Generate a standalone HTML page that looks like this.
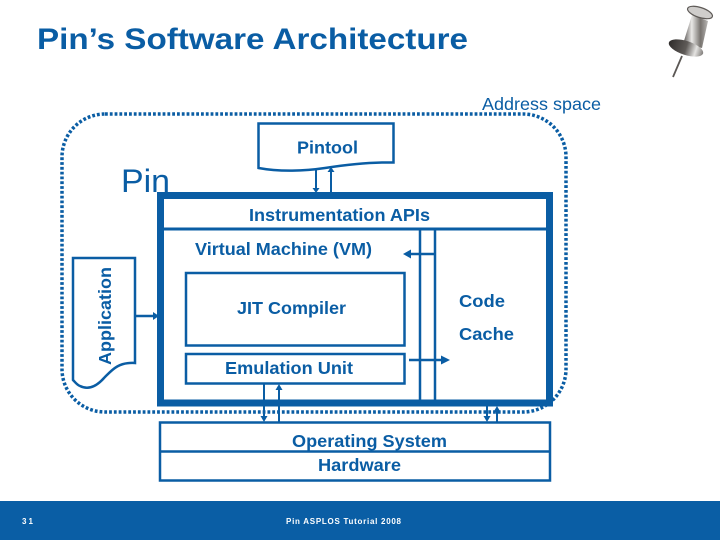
<!DOCTYPE html>
<html>
<head>
<meta charset="utf-8">
<style>
html,body{margin:0;padding:0;background:#fff;width:720px;height:540px;overflow:hidden}
svg{display:block}
text{font-family:"Liberation Sans",sans-serif;fill:#0a5da4}
.b{font-weight:bold;font-size:17.500px}
.r{font-size:17.500px}
</style>
</head>
<body>
<svg width="720" height="540" viewBox="0 0 720 540" xmlns="http://www.w3.org/2000/svg">
<defs>
<linearGradient id="m" x1="0" y1="0" x2="1" y2="0">
<stop offset="0" stop-color="#55514f"/><stop offset=".35" stop-color="#e9e8e6"/><stop offset=".7" stop-color="#77736f"/><stop offset="1" stop-color="#b9b7b5"/>
</linearGradient>
<linearGradient id="d" x1="0" y1="0" x2="1" y2="0">
<stop offset="0" stop-color="#2f2c2b"/><stop offset=".5" stop-color="#5f5b58"/><stop offset=".78" stop-color="#e4e3e1"/><stop offset="1" stop-color="#7f7c79"/>
</linearGradient>
</defs>

<text x="37" y="49" font-size="30" font-weight="bold" textLength="431" lengthAdjust="spacingAndGlyphs">Pin’s Software Architecture</text>

<!-- push pin -->
<g>
<line x1="682" y1="56" x2="673" y2="77" stroke="#5b5754" stroke-width="1.800"/>
<path d="M692 15 L708 21 L702 48 L683 44 Z" fill="url(#m)"/>
<ellipse cx="700" cy="12.500" rx="13" ry="5" transform="rotate(18 700 12.500)" fill="#cfcdcb" stroke="#5f5b58" stroke-width="1.200"/>
<ellipse cx="686" cy="48" rx="18" ry="7" transform="rotate(18 686 48)" fill="url(#d)"/>
</g>

<!-- address space -->
<rect x="62" y="114" width="504" height="298" rx="43" ry="43" fill="none" stroke="#0a5da4" stroke-width="3.500" stroke-dasharray="2.800 2"/>
<text class="r" x="482" y="110" textLength="119" lengthAdjust="spacingAndGlyphs">Address space</text>

<text x="121" y="192" font-size="32" textLength="49" lengthAdjust="spacingAndGlyphs">Pin</text>

<!-- Pintool -->
<path d="M258.500 123.500 H393.500 V162.500 C370 162 345 165 325 168 C305 171 280 172 258.500 168 Z" fill="#fff" stroke="#0a5da4" stroke-width="2.500"/>
<text class="b" x="297" y="153.500" textLength="61" lengthAdjust="spacingAndGlyphs">Pintool</text>
<g stroke="#0a5da4" stroke-width="2" fill="#0a5da4">
<line x1="316" y1="170" x2="316" y2="188"/>
<polygon points="312.500,188 319.500,188 316,193" stroke="none"/>
<line x1="331" y1="172" x2="331" y2="192"/>
<polygon points="327.500,172 334.500,172 331,167" stroke="none"/>
</g>

<!-- Application -->
<path d="M73 258 H135 V363 C118 362 112 370 104 378 C96 387 88 390 80 386 C77 385 75 382 73 380 Z" fill="#fff" stroke="#0a5da4" stroke-width="2.500"/>
<text class="b" transform="translate(111 365) rotate(-90)" textLength="98" lengthAdjust="spacingAndGlyphs">Application</text>
<line x1="135" y1="316" x2="153" y2="316" stroke="#0a5da4" stroke-width="2.500"/>
<polygon points="153,312 153,320 159,316" fill="#0a5da4"/>

<!-- Pin box -->
<rect x="160.500" y="195.500" width="389" height="207.500" fill="#fff" stroke="#0a5da4" stroke-width="7"/>
<line x1="164" y1="229" x2="546" y2="229" stroke="#0a5da4" stroke-width="3"/>
<line x1="420" y1="229" x2="420" y2="400" stroke="#0a5da4" stroke-width="2.500"/>
<line x1="435" y1="229" x2="435" y2="400" stroke="#0a5da4" stroke-width="2.500"/>
<text class="b" x="249" y="221" textLength="181" lengthAdjust="spacingAndGlyphs">Instrumentation APIs</text>
<text class="b" x="195" y="255" textLength="177" lengthAdjust="spacingAndGlyphs">Virtual Machine (VM)</text>

<line x1="410" y1="254" x2="435" y2="254" stroke="#0a5da4" stroke-width="2.500"/>
<polygon points="411,249.500 411,258.500 403,254" fill="#0a5da4"/>
<line x1="409" y1="360" x2="442" y2="360" stroke="#0a5da4" stroke-width="2.500"/>
<polygon points="441,355.500 441,364.500 450,360" fill="#0a5da4"/>

<rect x="186" y="273" width="218.500" height="72.500" fill="#fff" stroke="#0a5da4" stroke-width="2.500"/>
<text class="b" x="237" y="314" textLength="109" lengthAdjust="spacingAndGlyphs">JIT Compiler</text>
<rect x="186" y="354" width="218.500" height="29.500" fill="#fff" stroke="#0a5da4" stroke-width="2.500"/>
<text class="b" x="225" y="374" textLength="128" lengthAdjust="spacingAndGlyphs">Emulation Unit</text>
<text class="b" x="459" y="307" textLength="46" lengthAdjust="spacingAndGlyphs">Code</text>
<text class="b" x="459" y="340" textLength="55" lengthAdjust="spacingAndGlyphs">Cache</text>

<!-- OS / HW -->
<rect x="160" y="422.500" width="390" height="58" fill="#fff" stroke="#0a5da4" stroke-width="2.500"/>
<line x1="160" y1="451.500" x2="550" y2="451.500" stroke="#0a5da4" stroke-width="2.500"/>
<text class="b" x="292" y="447" textLength="155" lengthAdjust="spacingAndGlyphs">Operating System</text>
<text class="b" x="318" y="471" textLength="83" lengthAdjust="spacingAndGlyphs">Hardware</text>

<g stroke="#0a5da4" stroke-width="2" fill="#0a5da4">
<line x1="264" y1="384" x2="264" y2="417"/>
<polygon points="260.500,416 267.500,416 264,422" stroke="none"/>
<line x1="279" y1="390" x2="279" y2="422"/>
<polygon points="275.500,390 282.500,390 279,384" stroke="none"/>
<line x1="487" y1="406" x2="487" y2="417"/>
<polygon points="483.500,416 490.500,416 487,422" stroke="none"/>
<line x1="497" y1="412" x2="497" y2="422"/>
<polygon points="493.500,412 500.500,412 497,406" stroke="none"/>
</g>

<!-- footer -->
<rect x="0" y="501" width="720" height="39" fill="#0a5ea5"/>
<text x="22" y="524" font-size="8" font-weight="bold" style="fill:#fff" textLength="11" lengthAdjust="spacing">31</text>
<text x="286" y="524" font-size="8" font-weight="bold" style="fill:#fff" textLength="115" lengthAdjust="spacing">Pin ASPLOS Tutorial 2008</text>
</svg>
</body>
</html>
